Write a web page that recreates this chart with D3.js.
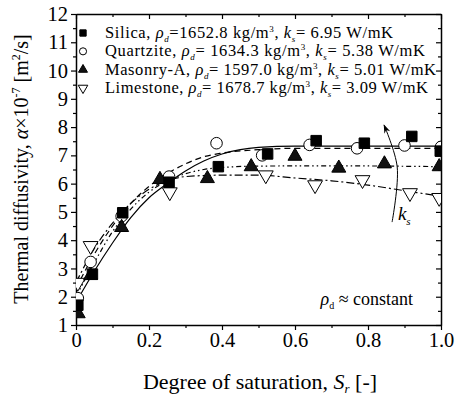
<!DOCTYPE html>
<html>
<head>
<meta charset="utf-8">
<script src="https://cdn.jsdelivr.net/npm/d3@7"></script>
<style>
  body { margin: 0; background: #fff; }
  svg text { font-family: "Liberation Serif", "DejaVu Serif", serif; }
</style>
</head>
<body>
<div id="chart"></div>
<script>
// measured points (Sr, alpha x 1e-7)
const silicaSr = [0.005, 0.045, 0.128, 0.255, 0.39, 0.525, 0.658, 0.79, 0.92, 0.998];
const silicaA  = [1.7, 2.8, 4.97, 6.05, 6.6, 7.05, 7.52, 7.43, 7.67, 7.15];
const quartzSr = [0.005, 0.04, 0.125, 0.255, 0.385, 0.51, 0.64, 0.77, 0.9, 1.0];
const quartzA  = [1.95, 3.23, 4.85, 6.25, 7.43, 7.0, 7.37, 7.25, 7.35, 7.3];
const masonSr  = [0.006, 0.04, 0.125, 0.23, 0.36, 0.48, 0.6, 0.72, 0.845, 0.995];
const masonA   = [1.4, 2.75, 4.45, 6.15, 6.18, 6.6, 6.97, 6.55, 6.7, 6.6];
const limeSr   = [0.005, 0.04, 0.257, 0.52, 0.655, 0.785, 0.915, 0.995];
const limeA    = [2.5, 3.8, 5.7, 6.3, 5.95, 6.13, 5.67, 5.5];

// fitted curves
const silicaFitSr = [0, 0.05, 0.1, 0.15, 0.2, 0.25, 0.3, 0.35, 0.4, 0.45, 0.5, 0.6, 0.8, 1.0];
const silicaFitA  = [1.8, 2.9, 3.9, 4.8, 5.5, 6.0, 6.45, 6.8, 7.05, 7.2, 7.28, 7.33, 7.33, 7.33];
const quartzFitSr = [0, 0.05, 0.1, 0.15, 0.2, 0.25, 0.3, 0.35, 0.4, 0.5, 0.6, 1.0];
const quartzFitA  = [2.3, 3.5, 4.5, 5.3, 5.9, 6.35, 6.7, 6.95, 7.08, 7.2, 7.25, 7.25];
const masonFitSr  = [0, 0.05, 0.1, 0.15, 0.2, 0.25, 0.3, 0.35, 0.4, 0.5, 0.7, 1.0];
const masonFitA   = [2.0, 3.2, 4.3, 5.1, 5.7, 6.1, 6.35, 6.5, 6.57, 6.62, 6.63, 6.6];
const limeFitSr   = [0, 0.05, 0.1, 0.15, 0.2, 0.25, 0.3, 0.4, 0.5, 0.6, 0.7, 0.8, 0.9, 1.0];
const limeFitA    = [2.5, 3.7, 4.6, 5.3, 5.8, 6.1, 6.25, 6.3, 6.3, 6.2, 6.1, 5.95, 5.75, 5.55];

const names = ["Silica", "Quartzite", "Masonry-A", "Limestone"];
const rhoVals = ["=1652.8", "= 1634.3", "= 1597.0", "= 1678.7"];
const ksVals = ["= 6.95", "= 5.38", "= 5.01", "= 3.09"];

const xTicks = [0, 0.2, 0.4, 0.6, 0.8, 1.0];
const xTickLabels = ["0", "0.2", "0.4", "0.6", "0.8", "1.0"];
const yTicks = [1, 2, 3, 4, 5, 6, 7, 8, 9, 10, 11, 12];

// arrow for increasing ks
const arrowSr = [0.866, 0.88, 0.844];
const arrowA  = [4.64, 6.59, 8.07];

const width = 455, height = 395;
const mLeft = 76, mRight = 441, mTop = 14, mBottom = 325;
const serif = "Liberation Serif, DejaVu Serif, serif";
// legend row widths in px (layout only)
const legWidths = [288, 320, 331, 323];

const svg = d3.select("#chart").append("svg")
  .attr("width", width).attr("height", height)
  .attr("font-family", serif);

const x = d3.scaleLinear().domain([0, 1]).range([mLeft, mRight]);
const y = d3.scaleLinear().domain([1, 12]).range([mBottom, mTop]);

svg.append("defs").append("clipPath").attr("id", "plotclip")
  .append("rect").attr("x", mLeft).attr("y", mTop)
  .attr("width", mRight - mLeft).attr("height", mBottom - mTop);

// axes
const minorX = d3.range(0.1, 1, 0.2);
const minorY = d3.range(1.5, 12, 1);

function drawAxis(axisGen, transform, showLabels) {
  const g = svg.append("g").attr("transform", transform).call(axisGen)
    .attr("font-family", serif);
  g.select(".domain").attr("stroke-width", 1.5);
  g.selectAll(".tick line").attr("stroke-width", 1.2);
  if (!showLabels) g.selectAll(".tick text").remove();
  return g;
}

const xb = drawAxis(d3.axisBottom(x).tickValues(xTicks).tickFormat((d, i) => xTickLabels[i]).tickSize(5).tickSizeOuter(0),
  `translate(0,${mBottom})`, true);
xb.selectAll(".tick text").attr("font-size", 20.5).attr("dy", "0.95em").attr("y", 3);
drawAxis(d3.axisBottom(x).tickValues(minorX).tickFormat("").tickSize(3).tickSizeOuter(0), `translate(0,${mBottom})`, false)
  .select(".domain").remove();

const yl = drawAxis(d3.axisLeft(y).tickValues(yTicks).tickSize(5).tickSizeOuter(0), `translate(${mLeft},0)`, true);
yl.selectAll(".tick text").attr("font-size", 20.5).attr("x", -8);
drawAxis(d3.axisLeft(y).tickValues(minorY).tickFormat("").tickSize(3).tickSizeOuter(0), `translate(${mLeft},0)`, false)
  .select(".domain").remove();

drawAxis(d3.axisTop(x).tickValues(xTicks).tickSize(-5).tickSizeOuter(0), `translate(0,${mTop})`, false);
drawAxis(d3.axisTop(x).tickValues(minorX).tickSize(-3).tickSizeOuter(0), `translate(0,${mTop})`, false)
  .select(".domain").remove();
drawAxis(d3.axisRight(y).tickValues(yTicks).tickSize(-5).tickSizeOuter(0), `translate(${mRight},0)`, false);
drawAxis(d3.axisRight(y).tickValues(minorY).tickSize(-3).tickSizeOuter(0), `translate(${mRight},0)`, false)
  .select(".domain").remove();

// axis titles
svg.append("text")
  .attr("x", 260).attr("y", 389)
  .attr("text-anchor", "middle").attr("font-size", 22)
  .call(t => {
    t.append("tspan").text("Degree of saturation, ");
    t.append("tspan").attr("font-style", "italic").text("S");
    t.append("tspan").attr("font-size", 13).attr("font-style", "italic").attr("dy", 4).text("r");
    t.append("tspan").attr("dy", -4).text(" [-]");
  });

svg.append("text")
  .attr("transform", "translate(28,169) rotate(-90)")
  .attr("text-anchor", "middle").attr("font-size", 20)
  .call(t => {
    t.append("tspan").text("Thermal diffusivity, ");
    t.append("tspan").attr("font-style", "italic").text("α");
    t.append("tspan").text("×10");
    t.append("tspan").attr("font-size", 12).attr("dy", -8).text("-7");
    t.append("tspan").attr("dy", 8).text(" [m");
    t.append("tspan").attr("font-size", 12).attr("dy", -8).text("2");
    t.append("tspan").attr("dy", 8).text("/s]");
  });

// curves
const plot = svg.append("g").attr("clip-path", "url(#plotclip)");
const line = d3.line().x(d => x(d[0])).y(d => y(d[1])).curve(d3.curveMonotoneX);
const fits = [
  { sr: silicaFitSr, a: silicaFitA, dash: null },
  { sr: quartzFitSr, a: quartzFitA, dash: "6,4" },
  { sr: masonFitSr, a: masonFitA, dash: "5,3,1.5,3,1.5,3" },
  { sr: limeFitSr, a: limeFitA, dash: "8,3,2,3" }
];
fits.forEach(f => {
  plot.append("path")
    .datum(d3.zip(f.sr, f.a))
    .attr("fill", "none").attr("stroke", "#000").attr("stroke-width", 1.2)
    .attr("stroke-dasharray", f.dash)
    .attr("d", line);
});

// markers
const sym = {
  square: d3.symbol().type(d3.symbolSquare).size(110),
  circle: d3.symbol().type(d3.symbolCircle).size(105),
  triangle: d3.symbol().type(d3.symbolTriangle).size(85),
  down: d3.symbol().type(d3.symbolTriangle).size(95)
};
const series = [
  { sr: limeSr, a: limeA, shape: "down", fill: "#fff" },
  { sr: quartzSr, a: quartzA, shape: "circle", fill: "#fff" },
  { sr: masonSr, a: masonA, shape: "triangle", fill: "#111" },
  { sr: silicaSr, a: silicaA, shape: "square", fill: "#000" }
];
series.forEach(s => {
  plot.append("g").selectAll("path")
    .data(d3.zip(s.sr, s.a))
    .join("path")
    .attr("d", sym[s.shape])
    .attr("transform", d => `translate(${x(d[0])},${y(d[1])})` + (s.shape === "down" ? " rotate(180)" : ""))
    .attr("fill", s.fill).attr("stroke", "#000").attr("stroke-width", 1);
});

// legend
const legShapes = ["square", "circle", "triangle", "down"];
const legFills = ["#000", "#fff", "#111", "#fff"];
const legSym = {
  square: d3.symbol().type(d3.symbolSquare).size(40),
  circle: d3.symbol().type(d3.symbolCircle).size(40),
  triangle: d3.symbol().type(d3.symbolTriangle).size(35),
  down: d3.symbol().type(d3.symbolTriangle).size(40)
};
const legRowY = d3.scaleLinear().domain([0, 3]).range([33, 88]);
names.forEach((n, i) => {
  const ry = legRowY(i);
  svg.append("path")
    .attr("d", legSym[legShapes[i]])
    .attr("transform", `translate(83,${ry})` + (legShapes[i] === "down" ? " rotate(180)" : ""))
    .attr("fill", legFills[i]).attr("stroke", "#000");
  svg.append("text")
    .attr("x", 105).attr("y", ry + 5).attr("font-size", 16.5)
    .attr("textLength", legWidths[i]).attr("lengthAdjust", "spacing")
    .call(t => {
      t.append("tspan").text(n + ", ");
      t.append("tspan").attr("font-style", "italic").text("ρ");
      t.append("tspan").attr("font-style", "italic").attr("font-size", 9).attr("dy", 4).text("d");
      t.append("tspan").attr("dy", -4).text(rhoVals[i] + " kg/m");
      t.append("tspan").attr("font-size", 9).attr("dy", -6).text("3");
      t.append("tspan").attr("dy", 6).text(", ");
      t.append("tspan").attr("font-style", "italic").text("k");
      t.append("tspan").attr("font-style", "italic").attr("font-size", 9).attr("dy", 4).text("s");
      t.append("tspan").attr("dy", -4).text(ksVals[i] + " W/mK");
    });
});

// ks arrow
svg.append("defs").append("marker")
  .attr("id", "ah").attr("viewBox", "0 0 10 10").attr("refX", 9).attr("refY", 5)
  .attr("markerWidth", 9).attr("markerHeight", 9).attr("orient", "auto")
  .append("path").attr("d", "M0,1.5 L10,5 L0,8.5 L3,5 Z").attr("fill", "#000");
svg.append("path")
  .datum(d3.zip(arrowSr, arrowA))
  .attr("d", d3.line().x(d => x(d[0])).y(d => y(d[1])).curve(d3.curveCatmullRom))
  .attr("fill", "none").attr("stroke", "#000").attr("stroke-width", 1)
  .attr("marker-end", "url(#ah)");

svg.append("text")
  .attr("x", x(0.882)).attr("y", y(4.7)).attr("font-size", 19)
  .call(t => {
    t.append("tspan").attr("font-style", "italic").text("k");
    t.append("tspan").attr("font-style", "italic").attr("font-size", 11).attr("dy", 5).text("s");
  });

svg.append("text")
  .attr("x", x(0.67)).attr("y", y(1.72)).attr("font-size", 18)
  .call(t => {
    t.append("tspan").attr("font-style", "italic").text("ρ");
    t.append("tspan").attr("font-size", 10).attr("dy", 4).text("d");
    t.append("tspan").attr("dy", -4).text(" ≈ constant");
  });
</script>
</body>
</html>
